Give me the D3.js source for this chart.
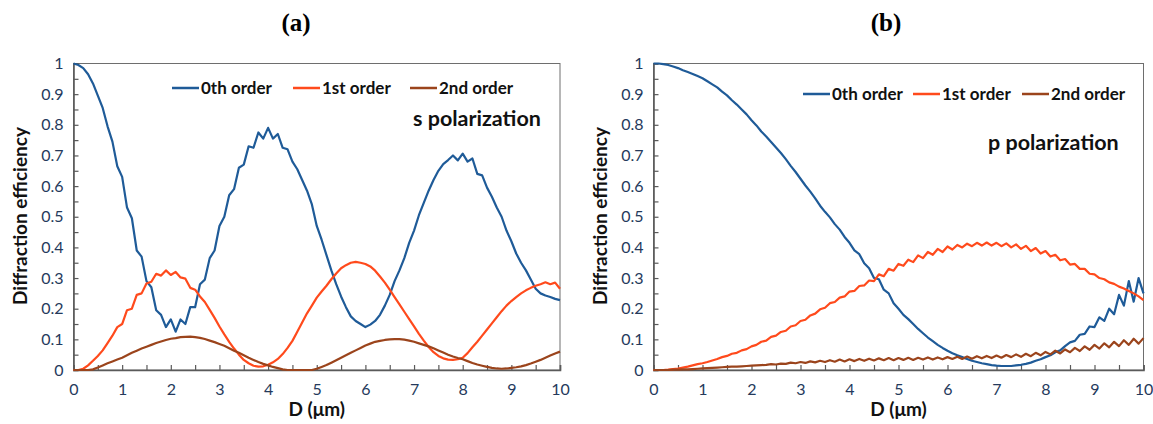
<!DOCTYPE html>
<html>
<head>
<meta charset="utf-8">
<script src="https://cdn.jsdelivr.net/npm/d3@7"></script>
<style>
  body { margin: 0; background: #fff; }
  svg { display: block; }
  .tick text { font-family: Lato, "Open Sans", sans-serif; font-size: 16px; fill: #253a5c; }
</style>
</head>
<body>
<div id="chart"></div>
<script>
// D grid step (um) of the simulation
const dStep = 0.1

const seriesNames = ['0th order', '1st order', '2nd order']
const seriesColors = ['#1f5b98', '#ff4a1c', '#9b441c']

const xTickLabels = [0, 1, 2, 3, 4, 5, 6, 7, 8, 9, 10]
const yTickLabels = [0, 0.1, 0.2, 0.3, 0.4, 0.5, 0.6, 0.7, 0.8, 0.9, 1]

// (a) s polarization
const s0 = [1.000,0.995,0.985,0.965,0.935,0.895,0.855,0.795,0.745,0.665,
  0.630,0.530,0.495,0.390,0.370,0.290,0.270,0.195,0.180,0.140,
  0.165,0.125,0.165,0.150,0.205,0.205,0.280,0.295,0.365,0.390,
  0.470,0.500,0.570,0.590,0.660,0.670,0.730,0.725,0.775,0.755,
  0.790,0.755,0.770,0.725,0.720,0.680,0.655,0.620,0.585,0.540,
  0.470,0.425,0.375,0.325,0.280,0.240,0.205,0.175,0.160,0.150,
  0.140,0.148,0.160,0.180,0.210,0.245,0.290,0.325,0.365,0.415,
  0.455,0.505,0.545,0.585,0.620,0.650,0.672,0.685,0.700,0.684,
  0.706,0.680,0.690,0.640,0.635,0.595,0.565,0.530,0.500,0.455,
  0.420,0.380,0.350,0.325,0.295,0.265,0.250,0.243,0.238,0.232,0.228]
const s1 = [0.000,0.000,0.004,0.015,0.030,0.046,0.064,0.088,0.112,0.140,
  0.150,0.195,0.200,0.245,0.250,0.282,0.288,0.314,0.308,0.325,
  0.310,0.320,0.302,0.298,0.268,0.262,0.240,0.222,0.196,0.170,
  0.142,0.116,0.092,0.070,0.050,0.033,0.022,0.014,0.011,0.012,
  0.017,0.025,0.036,0.052,0.072,0.095,0.125,0.155,0.185,0.210,
  0.236,0.256,0.275,0.296,0.315,0.332,0.342,0.350,0.353,0.350,
  0.346,0.338,0.324,0.305,0.285,0.262,0.238,0.214,0.190,0.166,
  0.142,0.118,0.096,0.075,0.058,0.046,0.038,0.034,0.033,0.035,
  0.040,0.055,0.074,0.092,0.112,0.132,0.152,0.172,0.192,0.210,
  0.225,0.238,0.250,0.260,0.268,0.275,0.280,0.286,0.280,0.285,0.265]
const s2 = [0.000,0.000,0.000,0.000,0.002,0.008,0.015,0.022,0.028,0.034,
  0.040,0.048,0.056,0.063,0.070,0.076,0.082,0.088,0.093,0.098,
  0.102,0.104,0.107,0.108,0.109,0.107,0.105,0.101,0.096,0.091,
  0.085,0.079,0.071,0.063,0.056,0.048,0.040,0.033,0.026,0.020,
  0.015,0.010,0.006,0.002,0.000,0.000,0.000,0.000,0.000,0.000,
  0.004,0.010,0.016,0.024,0.032,0.040,0.048,0.056,0.064,0.072,
  0.080,0.086,0.092,0.095,0.098,0.100,0.101,0.101,0.099,0.096,
  0.092,0.087,0.082,0.077,0.071,0.064,0.057,0.050,0.044,0.039,
  0.035,0.029,0.023,0.018,0.014,0.010,0.007,0.005,0.004,0.005,
  0.007,0.009,0.012,0.016,0.021,0.027,0.033,0.040,0.047,0.054,0.060]

// (b) p polarization
const p0 = [1.000,1.000,0.998,0.995,0.990,0.985,0.978,0.972,0.966,0.959,
  0.952,0.942,0.932,0.922,0.908,0.896,0.880,0.866,0.850,0.834,
  0.815,0.798,0.778,0.762,0.744,0.726,0.708,0.688,0.666,0.646,
  0.624,0.602,0.582,0.560,0.536,0.516,0.498,0.476,0.458,0.434,
  0.415,0.390,0.378,0.348,0.332,0.300,0.296,0.262,0.250,0.218,
  0.200,0.180,0.166,0.150,0.134,0.120,0.106,0.094,0.082,0.072,
  0.063,0.055,0.048,0.042,0.036,0.030,0.026,0.022,0.019,0.016,
  0.014,0.013,0.013,0.013,0.015,0.017,0.020,0.024,0.030,0.035,
  0.042,0.048,0.058,0.064,0.078,0.090,0.095,0.115,0.118,0.142,
  0.140,0.172,0.160,0.200,0.182,0.245,0.210,0.290,0.223,0.300,0.250]
const p1 = [0.000,0.000,0.000,0.001,0.003,0.005,0.008,0.011,0.015,0.019,
  0.022,0.026,0.031,0.036,0.042,0.046,0.053,0.056,0.064,0.068,
  0.077,0.082,0.092,0.096,0.108,0.112,0.124,0.128,0.142,0.146,
  0.160,0.164,0.178,0.184,0.198,0.203,0.218,0.222,0.236,0.240,
  0.256,0.258,0.274,0.276,0.292,0.290,0.312,0.306,0.330,0.324,
  0.346,0.340,0.360,0.352,0.374,0.365,0.385,0.376,0.395,0.385,
  0.403,0.393,0.408,0.400,0.412,0.404,0.415,0.406,0.416,0.406,
  0.415,0.404,0.413,0.400,0.410,0.395,0.405,0.388,0.398,0.380,
  0.388,0.370,0.376,0.358,0.362,0.344,0.346,0.330,0.330,0.314,
  0.312,0.300,0.296,0.286,0.281,0.272,0.266,0.258,0.250,0.240,0.228]
const p2 = [0.000,0.000,0.000,0.000,0.001,0.001,0.002,0.002,0.003,0.004,
  0.005,0.006,0.007,0.008,0.009,0.010,0.011,0.011,0.012,0.013,
  0.014,0.015,0.016,0.017,0.019,0.018,0.021,0.020,0.024,0.022,
  0.026,0.023,0.028,0.025,0.030,0.026,0.032,0.027,0.034,0.028,
  0.035,0.029,0.036,0.030,0.037,0.031,0.038,0.032,0.039,0.032,
  0.039,0.033,0.040,0.033,0.040,0.034,0.041,0.034,0.041,0.035,
  0.042,0.036,0.043,0.036,0.044,0.037,0.045,0.038,0.046,0.039,
  0.047,0.040,0.049,0.042,0.051,0.043,0.053,0.045,0.056,0.048,
  0.059,0.051,0.063,0.054,0.067,0.058,0.072,0.062,0.077,0.066,
  0.082,0.070,0.087,0.074,0.092,0.078,0.097,0.082,0.102,0.086,0.104]

const W = 1153, H = 424
const svg = d3.select('#chart').append('svg').attr('width', W).attr('height', H)

function drawPanel(opt) {
  const x = d3.scaleLinear().domain([0, 10]).range([opt.left, opt.right])
  const y = d3.scaleLinear().domain([0, 1]).range([370, 63.5])
  const g = svg.append('g')

  // plot area border
  g.append('rect')
    .attr('x', x(0)).attr('y', y(1))
    .attr('width', x(10) - x(0)).attr('height', y(0) - y(1))
    .attr('fill', 'none').attr('stroke', '#6e6e6e').attr('stroke-width', 1)

  const yMinor = d3.range(0, 1.0001, 0.05)
  const yAxis = d3.axisLeft(y).tickValues(yMinor).tickSize(-5).tickPadding(10)
    .tickFormat(d => yTickLabels.some(v => Math.abs(v - d) < 1e-6) ? d3.format('')(+d.toFixed(1)) : '')
  const ya = g.append('g').attr('transform', 'translate(' + x(0) + ',0)').call(yAxis)
  ya.select('.domain').attr('stroke', '#5a5a5a').attr('stroke-width', 1.6)
  ya.selectAll('.tick line').attr('stroke', '#5a5a5a').attr('stroke-width', 1.2)

  const xMinor = d3.range(0, 10.0001, 0.5)
  const xAxis = d3.axisBottom(x).tickValues(xMinor).tickSize(-5).tickPadding(14)
    .tickFormat(d => xTickLabels.indexOf(d) >= 0 ? d : '')
  const xa = g.append('g').attr('transform', 'translate(0,' + y(0) + ')').call(xAxis)
  xa.select('.domain').attr('stroke', '#5a5a5a').attr('stroke-width', 1.6)
  xa.selectAll('.tick line').attr('stroke', '#5a5a5a').attr('stroke-width', 1.2)

  const line = d3.line().x((d, i) => x(i * dStep)).y(d => y(d))
  opt.series.forEach((s, k) => {
    g.append('path').datum(s)
      .attr('d', line)
      .attr('fill', 'none')
      .attr('stroke', seriesColors[k])
      .attr('stroke-width', 2.2)
      .attr('stroke-linejoin', 'round')
  })

  // legend
  const lg = g.append('g')
  opt.legendX.forEach((lx, k) => {
    lg.append('line')
      .attr('x1', lx).attr('x2', lx + 27)
      .attr('y1', opt.legendY).attr('y2', opt.legendY)
      .attr('stroke', seriesColors[k]).attr('stroke-width', 2.5)
    lg.append('text')
      .attr('x', lx + 29).attr('y', opt.legendY + 6)
      .text(seriesNames[k])
      .style('font-family', 'Lato, sans-serif')
      .style('font-weight', 'bold')
      .style('font-size', '17px')
      .style('fill', '#111')
  })

  g.append('text')
    .attr('x', opt.polX).attr('y', opt.polY)
    .text(opt.pol)
    .style('font-family', 'Lato, sans-serif')
    .style('font-weight', 'bold')
    .style('font-size', '21.5px')
    .style('fill', '#111')

  // titles
  g.append('text')
    .attr('x', opt.titleX).attr('y', 31)
    .attr('text-anchor', 'middle')
    .text(opt.title)
    .style('font-family', '"Liberation Serif", serif')
    .style('font-weight', 'bold')
    .style('font-size', '25px')

  g.append('text')
    .attr('transform', 'translate(' + (opt.left - 47) + ',' + 216 + ') rotate(-90)')
    .attr('text-anchor', 'middle')
    .text('Diffraction efficiency')
    .style('font-family', 'Lato, sans-serif')
    .style('font-weight', 'bold')
    .style('font-size', '19px')
    .style('fill', '#111')

  g.append('text')
    .attr('x', (opt.left + opt.right) / 2).attr('y', 416)
    .attr('text-anchor', 'middle')
    .text('D (μm)')
    .style('font-family', 'Lato, sans-serif')
    .style('font-weight', 'bold')
    .style('font-size', '19px')
    .style('fill', '#111')
}

drawPanel({
  left: 73.5, right: 560, series: [s0, s1, s2],
  legendX: [172, 293, 410], legendY: 88,
  pol: 's polarization', polX: 413, polY: 126,
  title: '(a)', titleX: 296
})
drawPanel({
  left: 653.5, right: 1143.5, series: [p0, p1, p2],
  legendX: [803, 913, 1022], legendY: 94,
  pol: 'p polarization', polX: 988, polY: 150,
  title: '(b)', titleX: 886
})
</script>
</body>
</html>
